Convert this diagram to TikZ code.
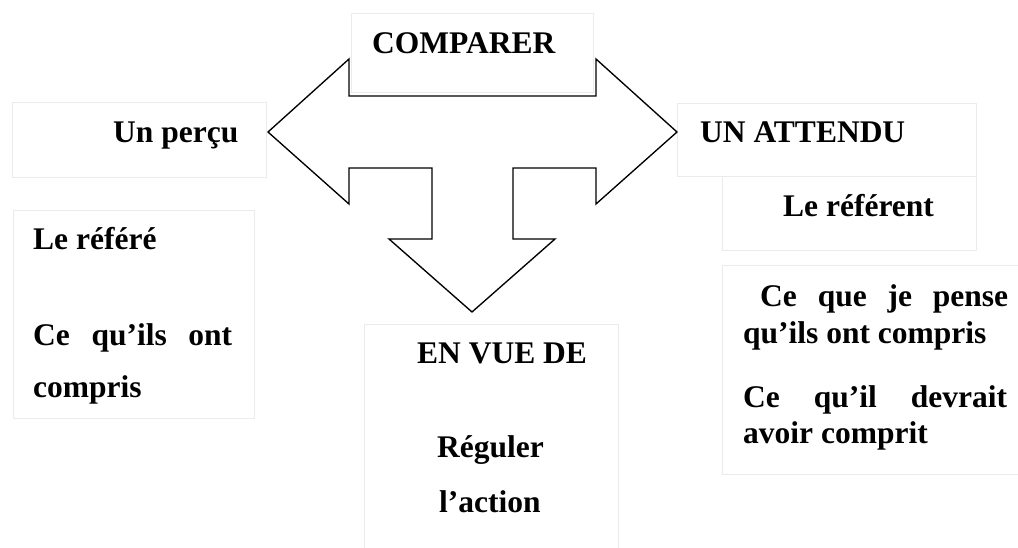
\documentclass[tikz,border=0pt]{standalone}
\usepackage{fontspec}
\setmainfont{Liberation Serif}
\begin{document}
\begin{tikzpicture}[x=1pt,y=-1pt,
  box/.style={draw=black!8,line width=1.1pt,fill=white,inner sep=0pt,anchor=north west},
  txt/.style={inner sep=0pt,anchor=base west,font=\fontsize{31.5}{36}\selectfont\bfseries},
  arrowshape/.style={draw=black,line width=1.35pt,fill=white,line join=miter}]
\useasboundingbox (0,0) rectangle (1018,548);
% boxes
\node[box,minimum width=254pt,minimum height=75pt] (bperc) at (12,102) {};
\node[box,minimum width=241pt,minimum height=208pt] (bref) at (13,210) {};
\node[box,minimum width=299pt,minimum height=73pt] (batt) at (677,103) {};
\node[box,minimum width=254pt,minimum height=74pt] (brefent) at (722,176) {};
\node[box,minimum width=300pt,minimum height=209pt] (bpense) at (722,265) {};
\node[box,minimum width=254pt,minimum height=240pt] (bvue) at (364,324) {};
% triple arrow
\draw[arrowshape] (268,132) -- (349,59) -- (349,96) -- (596,96) -- (596,59) -- (677,132)
  -- (596,204) -- (596,168) -- (513,168) -- (513,239) -- (555,239) -- (472,312)
  -- (389,239) -- (432,239) -- (432,168) -- (349,168) -- (349,204) -- cycle;
\node[box,minimum width=242pt,minimum height=79pt] (bcomp) at (351,13) {};
% texts
\node[txt] (tcomp) at (372,54) {COMPARER};
\node[txt] (tperc) at (113,143) {Un perçu};
\node[txt] (tatt) at (700,143) {UN ATTENDU};
\node[txt] (trefent) at (783,217) {Le référent};
\node[txt] (tref) at (33,250) {Le référé};
\node[txt] (tqu1) at (33,345) {\makebox[199pt][s]{Ce qu’ils ont}};
\node[txt] (tcomp1) at (33,397) {compris};
\node[txt] (tpense) at (760,307) {\makebox[248pt][s]{Ce que je pense}};
\node[txt] (tqu2) at (743,343) {qu’ils ont compris};
\node[txt] (tdev) at (743,407) {\makebox[264pt][s]{Ce qu’il devrait}};
\node[txt] (tavoir) at (743,443) {avoir comprit};
\node[txt] (tvue) at (417,363) {EN VUE DE};
\node[txt] (treg) at (437,457) {Réguler};
\node[txt] (tact) at (439,512) {l’action};
\end{tikzpicture}
\end{document}
